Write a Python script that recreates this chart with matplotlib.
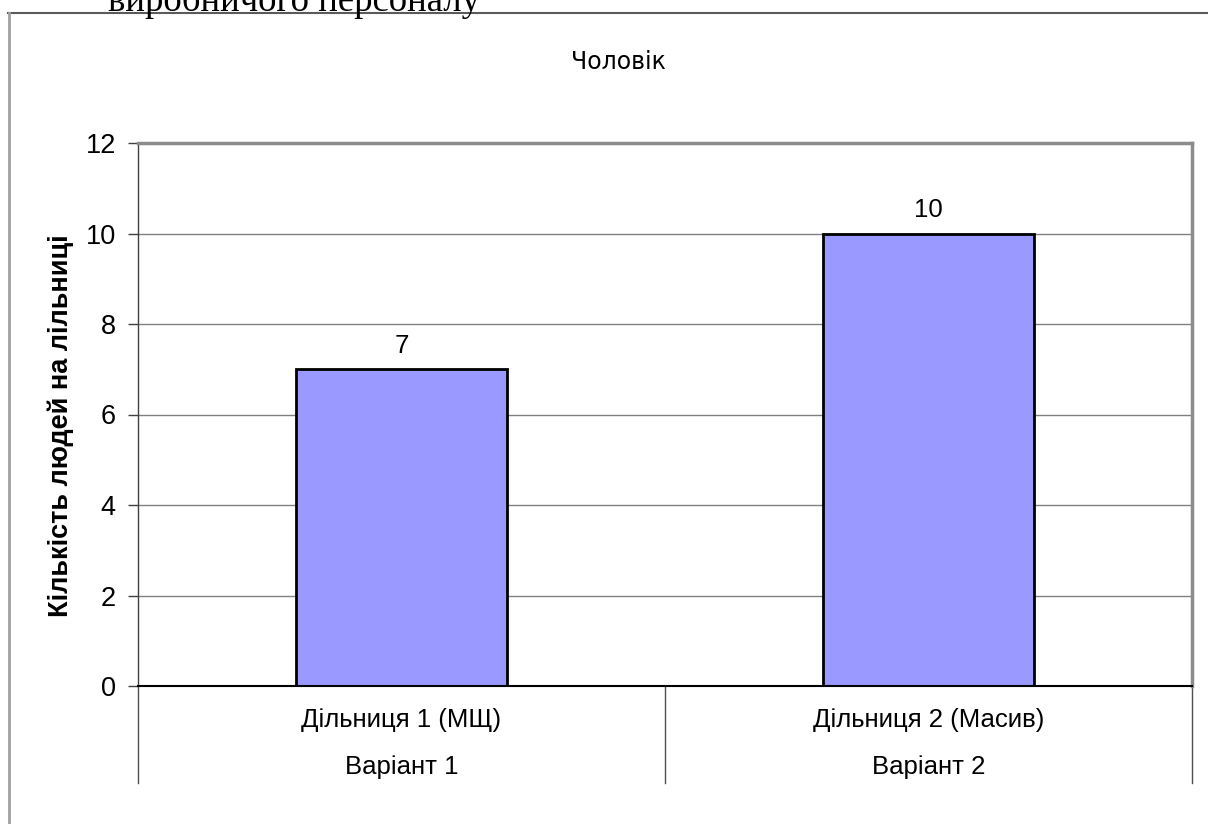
import matplotlib
matplotlib.use("Agg")
import matplotlib.pyplot as plt
from matplotlib.lines import Line2D

# Chart data
sites = ["Дільниця 1 (МЩ)", "Дільниця 2 (Масив)"]
variants = ["Варіант 1", "Варіант 2"]
people = [7, 10]
y_ticks = [0, 2, 4, 6, 8, 10, 12]

W, H = 1208, 824
fig = plt.figure(figsize=(W / 100, H / 100), dpi=100)
fig.patch.set_facecolor("white")


def fx(x):
    return x / W


def fy(y):
    return 1 - y / H


SANS = "Liberation Sans"

# Caption text from the surrounding document, clipped at the top edge
fig.text(fx(108), fy(11), "виробничого персоналу", family="Liberation Serif",
         fontsize=26.5, ha="left", va="baseline", color="black")

# Outer chart frame (top and left edges visible)
fig.add_artist(Line2D([fx(8), fx(W + 5)], [fy(13), fy(13)], color="#5a5a5a",
                      lw=1.5, transform=fig.transFigure))
fig.add_artist(Line2D([fx(9), fx(9)], [fy(13), fy(H + 5)], color="#a0a0a0",
                      lw=2, transform=fig.transFigure))

# Plot area
left, right, top, bottom = 138, 1192, 143, 686
ax = fig.add_axes([fx(left), fy(bottom), fx(right - left), (bottom - top) / H])
ax.set_facecolor("white")

x = list(range(len(people)))
bars = ax.bar(x, people, width=0.4, color="#9999ff", edgecolor="black",
              linewidth=2, zorder=3)
ax.bar_label(bars, labels=[str(v) for v in people], padding=8,
             fontsize=18.5, family=SANS)

ax.set_xlim(-0.5, len(people) - 0.5)
ax.set_ylim(0, 12)
ax.set_yticks(y_ticks)
ax.set_yticklabels([str(t) for t in y_ticks], family=SANS, fontsize=19.5)
ax.tick_params(axis="y", direction="out", length=7, width=1, pad=9,
               color="#404040")
ax.set_xticks([])
ax.grid(axis="y", color="#808080", lw=1, zorder=0)

for s in ("top", "right"):
    ax.spines[s].set_color("#8c8c8c")
    ax.spines[s].set_linewidth(2.5)
ax.spines["left"].set_color("#404040")
ax.spines["left"].set_linewidth(1)
ax.spines["bottom"].set_color("black")
ax.spines["bottom"].set_linewidth(1.5)
ax.spines["bottom"].set_zorder(4)

# Two-level category table under the axis
table_bottom = 783
depth = (table_bottom - bottom) / (bottom - top) * 12
for xb in [-0.5 + i for i in range(len(people) + 1)]:
    ax.add_artist(Line2D([xb, xb], [0, -depth], color="#505050", lw=1,
                         clip_on=False))
for i, (s, v) in enumerate(zip(sites, variants)):
    ax.text(i, -(720 - bottom) / (bottom - top) * 12, s, ha="center",
            va="center", fontsize=18.5, family=SANS)
    ax.text(i, -(767 - bottom) / (bottom - top) * 12, v, ha="center",
            va="center", fontsize=18.5, family=SANS)

# Chart title and axis title
fig.text(fx(618), fy(62), "Чоловік", ha="center", va="center",
         fontsize=17, family="DejaVu Sans")
fig.text(fx(61), fy(426), "Кількість людей на лільниці", rotation=90,
         ha="center", va="center", fontsize=19.5, fontweight="bold",
         family=SANS)

fig.savefig("out.png", dpi=100, facecolor="white")
